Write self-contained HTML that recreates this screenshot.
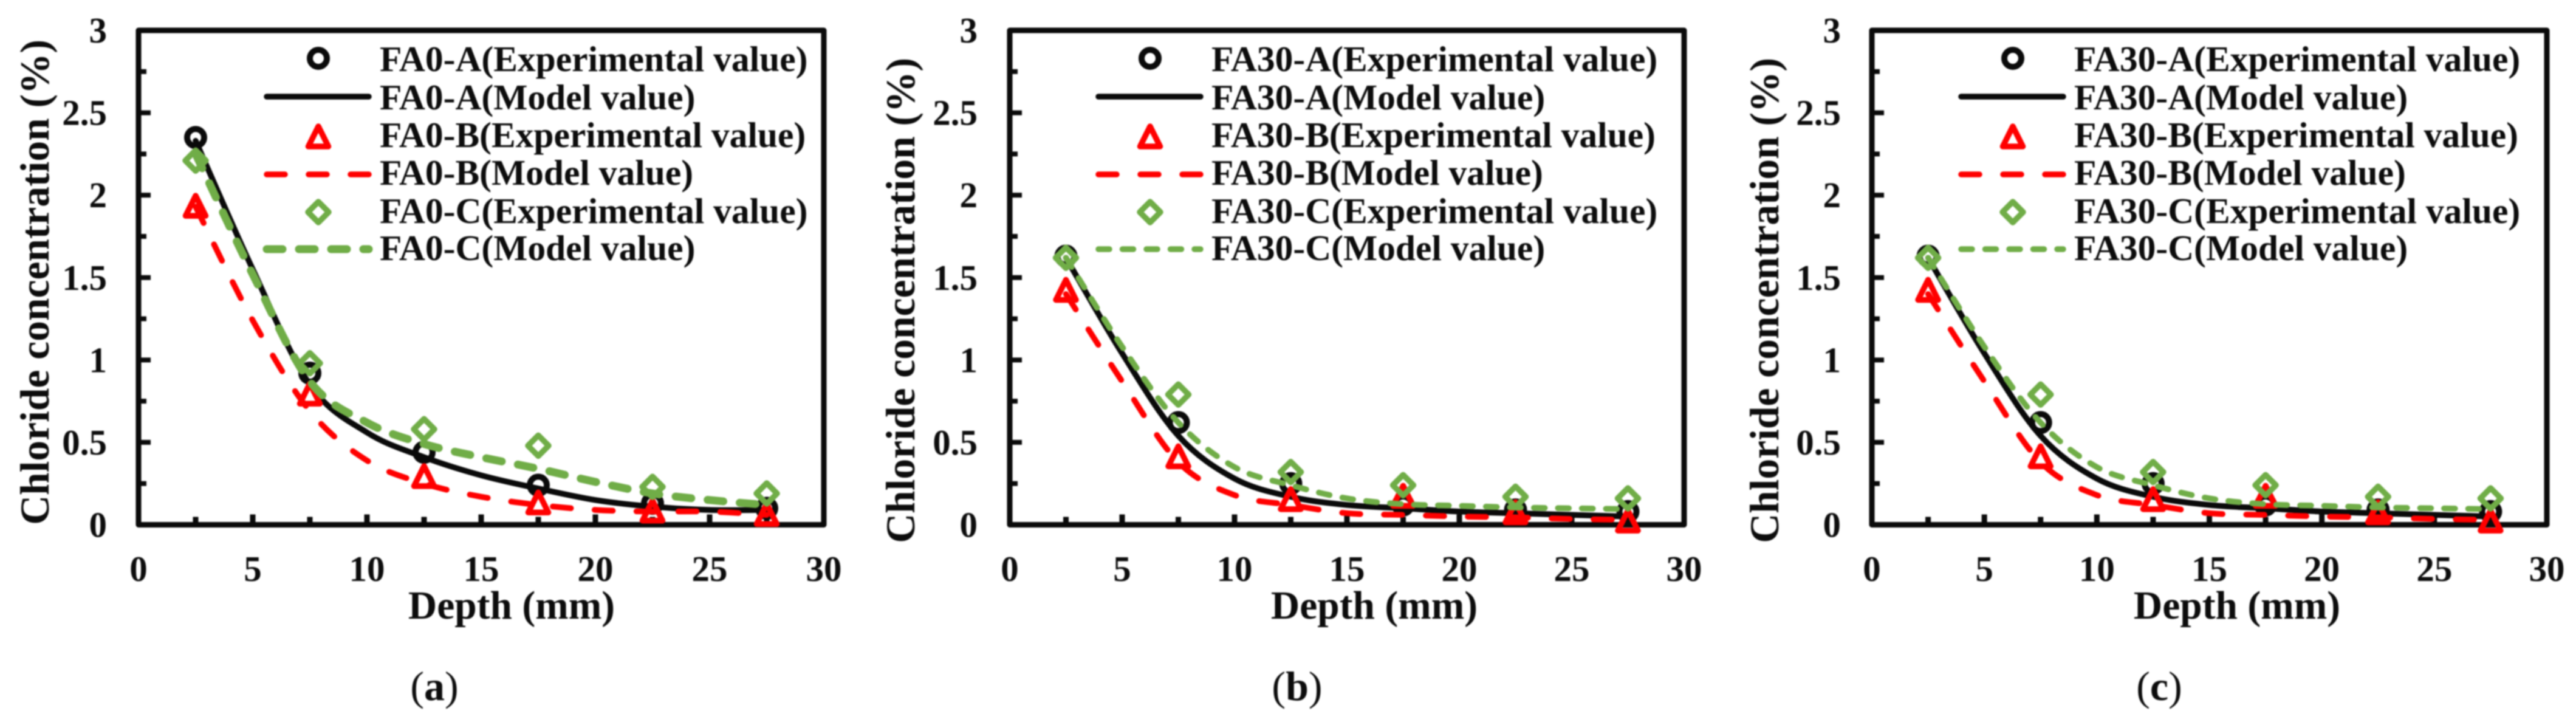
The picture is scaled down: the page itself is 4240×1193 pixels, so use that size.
<!DOCTYPE html>
<html lang="en">
<head>
<meta charset="utf-8">
<title>Chloride concentration vs depth</title>
<style>
  html, body { margin: 0; padding: 0; background: #fff; width: 4240px; height: 1193px; overflow: hidden; }
  svg { display: block; filter: blur(1.1px); }
  text { font-family: "Liberation Serif", serif; fill: #0c0c0c; font-weight: bold; }
</style>
</head>
<body>
<svg id="figure" xmlns="http://www.w3.org/2000/svg" width="4240" height="1193" viewBox="0 0 4240 1193"></svg>
<script>
// Axis tick values
const xMajorTicks = [0, 5, 10, 15, 20, 25, 30];
const xMinorTicks = [2.5, 7.5, 12.5, 17.5, 22.5, 27.5];
const yMajorTicks = [0, 0.5, 1, 1.5, 2, 2.5, 3];
const yMinorTicks = [0.25, 0.75, 1.25, 1.75, 2.25, 2.75];

// Depth categories (mm)
const depthsExperimental = [2.5, 7.5, 12.5, 17.5, 22.5, 27.5];
const depthsModel = [2.5, 5, 7.5, 10, 12.5, 15, 17.5, 20, 22.5, 25, 27.5];

// Panel (a) FA0
const fa0AExperimental = [2.35, 0.92, 0.44, 0.24, 0.13, 0.10];
const fa0BExperimental = [1.93, 0.79, 0.29, 0.13, 0.08, 0.06];
const fa0CExperimental = [2.21, 0.98, 0.58, 0.48, 0.23, 0.19];
const fa0AModel = [2.33, 1.55, 0.85, 0.56, 0.41, 0.30, 0.22, 0.15, 0.11, 0.09, 0.09];
const fa0BModel = [1.93, 1.24, 0.69, 0.39, 0.25, 0.17, 0.12, 0.09, 0.08, 0.08, 0.06];
const fa0CModel = [2.25, 1.52, 0.87, 0.62, 0.49, 0.41, 0.34, 0.26, 0.19, 0.15, 0.12];

// Panel (b) FA30
const fa30AExperimental = [1.63, 0.62, 0.25, 0.12, 0.09, 0.08];
const fa30BExperimental = [1.42, 0.41, 0.15, 0.17, 0.07, 0.02];
const fa30CExperimental = [1.62, 0.79, 0.32, 0.24, 0.17, 0.16];
const fa30AModel = [1.62, 1.04, 0.54, 0.28, 0.17, 0.12, 0.10, 0.08, 0.07, 0.06, 0.05];
const fa30BModel = [1.40, 0.87, 0.38, 0.18, 0.12, 0.07, 0.06, 0.05, 0.045, 0.035, 0.03];
const fa30CModel = [1.62, 1.08, 0.62, 0.35, 0.24, 0.16, 0.125, 0.115, 0.105, 0.10, 0.095];

// Panel (c) FA30
const fa30cAExperimental = [1.63, 0.62, 0.25, 0.12, 0.09, 0.08];
const fa30cBExperimental = [1.42, 0.41, 0.15, 0.17, 0.07, 0.02];
const fa30cCExperimental = [1.62, 0.79, 0.32, 0.24, 0.17, 0.16];
const fa30cAModel = [1.62, 1.04, 0.54, 0.28, 0.17, 0.12, 0.10, 0.08, 0.07, 0.06, 0.05];
const fa30cBModel = [1.40, 0.87, 0.38, 0.18, 0.12, 0.07, 0.06, 0.05, 0.045, 0.035, 0.03];
const fa30cCModel = [1.62, 1.08, 0.62, 0.35, 0.24, 0.16, 0.125, 0.115, 0.105, 0.10, 0.095];

const svg = document.getElementById('figure');
const NS = 'http://www.w3.org/2000/svg';
const BLACK = '#0a0a0a', RED = '#ff0000', GREEN = '#70ad47';

function make(parent, tag, attrs) {
  const node = document.createElementNS(NS, tag);
  for (const k in attrs) node.setAttribute(k, attrs[k]);
  parent.appendChild(node);
  return node;
}

function smoothPath(pts) {
  let d = 'M' + pts[0][0] + ' ' + pts[0][1];
  for (let i = 0; i < pts.length - 1; i++) {
    const p0 = pts[Math.max(i - 1, 0)], p1 = pts[i], p2 = pts[i + 1], p3 = pts[Math.min(i + 2, pts.length - 1)];
    d += ' C' + (p1[0] + (p2[0] - p0[0]) / 6) + ' ' + (p1[1] + (p2[1] - p0[1]) / 6) + ' ' +
      (p2[0] - (p3[0] - p1[0]) / 6) + ' ' + (p2[1] - (p3[1] - p1[1]) / 6) + ' ' + p2[0] + ' ' + p2[1];
  }
  return d;
}

function drawMarker(g, kind, cx, cy, color) {
  let m;
  if (kind === 'circle') {
    m = make(g, 'circle', { cx: cx, cy: cy, r: 14, fill: 'none', stroke: color, 'stroke-width': 10 });
  } else if (kind === 'triangle') {
    m = make(g, 'polygon', { points: (cx) + ',' + (cy - 18) + ' ' + (cx + 16.5) + ',' + (cy + 15) + ' ' + (cx - 16.5) + ',' + (cy + 15), fill: 'none', stroke: color, 'stroke-width': 9.5, 'stroke-linejoin': 'round' });
  } else {
    m = make(g, 'polygon', { points: cx + ',' + (cy - 17) + ' ' + (cx + 17) + ',' + cy + ' ' + cx + ',' + (cy + 17) + ' ' + (cx - 17) + ',' + cy, fill: 'none', stroke: color, 'stroke-width': 9.5, 'stroke-linejoin': 'round' });
  }
  
  
}

function drawText(parent, str, x, y, size, anchor, name) {
  const t = make(parent, 'text', { x: x, y: y, 'font-size': size, 'text-anchor': anchor });
  t.textContent = str;
  
  
  return t;
}

function drawPanel(p) {
  const yBottom = 863.5, yTop = 50;
  const X = v => p.left + (v / 30) * (p.right - p.left);
  const Y = v => yBottom - (v / 3) * (yBottom - yTop);

  const g = make(svg, 'g', {});
  
  

  // ticks
  xMajorTicks.forEach(v => {
    const t = make(g, 'line', { x1: X(v), x2: X(v), y1: yBottom, y2: yBottom - 17, stroke: BLACK, 'stroke-width': 9 });
    
    
    drawText(g, String(v), X(v), 956, 59, 'middle', 'x-tick-label');
  });
  xMinorTicks.forEach(v => {
    const t = make(g, 'line', { x1: X(v), x2: X(v), y1: yBottom, y2: yBottom - 13, stroke: BLACK, 'stroke-width': 9 });
    
    
  });
  yMajorTicks.forEach(v => {
    const t = make(g, 'line', { x1: p.left, x2: p.left + 20, y1: Y(v), y2: Y(v), stroke: BLACK, 'stroke-width': 8 });
    
    
    drawText(g, String(v), p.yLabelRight, Y(v) + 20, 59, 'end', 'y-tick-label');
  });
  yMinorTicks.forEach(v => {
    const t = make(g, 'line', { x1: p.left, x2: p.left + 13, y1: Y(v), y2: Y(v), stroke: BLACK, 'stroke-width': 8 });
    
    
  });

  // frame
  const frame = make(g, 'rect', { x: p.left, y: yTop, width: p.right - p.left, height: yBottom - yTop, fill: 'none', stroke: BLACK, 'stroke-width': 9, 'stroke-linejoin': 'round' });
  
  

  // series
  p.series.forEach(s => {
    const ms = make(g, 'g', {});
    
    
    s.exp.forEach((v, i) => drawMarker(ms, s.marker, X(depthsExperimental[i]), Y(v), s.color));

    const pts = s.model.map((v, i) => [X(depthsModel[i]), Y(v)]);
    const line = make(g, 'path', { d: smoothPath(pts), fill: 'none', stroke: s.color, 'stroke-width': s.sw, 'stroke-linecap': 'round', 'stroke-dasharray': s.dash });
    
    
  });

  // legend
  const rows = [96, 159, 226, 287, 349, 410];
  const baselines = [117, 180, 242, 304, 367, 428];
  const lg = make(g, 'g', {});
  
  
  p.series.forEach((s, i) => {
    drawMarker(lg, s.marker, p.legendText - 101, rows[i * 2], s.color);
    const key = make(lg, 'line', { x1: p.legendText - 186, x2: p.legendText - 18, y1: rows[i * 2 + 1], y2: rows[i * 2 + 1], stroke: s.color, 'stroke-width': s.sw, 'stroke-linecap': 'round', 'stroke-dasharray': s.dash });
    
    
    drawText(lg, s.id + '(Experimental value)', p.legendText, baselines[i * 2], 59.5, 'start', 'legend-entry-experimental');
    drawText(lg, s.id + '(Model value)', p.legendText, baselines[i * 2 + 1], 59.5, 'start', 'legend-entry-model');
  });

  // axis titles
  drawText(g, 'Depth (mm)', p.xTitle, 1018, 65.5, 'middle', 'x-axis-title');
  const yt = drawText(g, 'Chloride concentration (%)', 0, 0, 67.5, 'end', 'y-axis-title');
  yt.setAttribute('transform', 'translate(' + p.yTitleX + ' ' + p.yTitleTop + ') rotate(-90)');

  // caption
  const cap = make(g, 'text', { x: p.caption, y: 1152, 'font-size': 68, 'text-anchor': 'middle', 'font-weight': 'normal' });
  
  
  cap.style.fontWeight = 'normal';
  cap.appendChild(document.createTextNode('('));
  const bold = make(cap, 'tspan', { 'font-weight': 'bold' });
  bold.style.fontWeight = 'bold';
  bold.textContent = p.letter;
  cap.appendChild(document.createTextNode(')'));
}

drawPanel({
  letter: 'a', left: 228, right: 1356, yLabelRight: 176, legendText: 625, xTitle: 842,
  yTitleX: 80, yTitleTop: 65, caption: 715,
  series: [
    { id: 'FA0-A', marker: 'circle', color: BLACK, sw: 9.5, dash: 'none', exp: fa0AExperimental, model: fa0AModel },
    { id: 'FA0-B', marker: 'triangle', color: RED, sw: 9.5, dash: '30 39', exp: fa0BExperimental, model: fa0BModel },
    { id: 'FA0-C', marker: 'diamond', color: GREEN, sw: 13, dash: '26 27', exp: fa0CExperimental, model: fa0CModel }
  ]
});
drawPanel({
  letter: 'b', left: 1662, right: 2772, yLabelRight: 1609, legendText: 1994, xTitle: 2262,
  yTitleX: 1505, yTitleTop: 95, caption: 2135,
  series: [
    { id: 'FA30-A', marker: 'circle', color: BLACK, sw: 9.5, dash: 'none', exp: fa30AExperimental, model: fa30AModel },
    { id: 'FA30-B', marker: 'triangle', color: RED, sw: 9.5, dash: '30 39', exp: fa30BExperimental, model: fa30BModel },
    { id: 'FA30-C', marker: 'diamond', color: GREEN, sw: 9.5, dash: '18 21.5', exp: fa30CExperimental, model: fa30CModel }
  ]
});
drawPanel({
  letter: 'c', left: 3081, right: 4192, yLabelRight: 3030, legendText: 3414, xTitle: 3682,
  yTitleX: 2927, yTitleTop: 95, caption: 3554,
  series: [
    { id: 'FA30-A', marker: 'circle', color: BLACK, sw: 9.5, dash: 'none', exp: fa30cAExperimental, model: fa30cAModel },
    { id: 'FA30-B', marker: 'triangle', color: RED, sw: 9.5, dash: '30 39', exp: fa30cBExperimental, model: fa30cBModel },
    { id: 'FA30-C', marker: 'diamond', color: GREEN, sw: 9.5, dash: '18 21.5', exp: fa30cCExperimental, model: fa30cCModel }
  ]
});
</script>
</body>
</html>
